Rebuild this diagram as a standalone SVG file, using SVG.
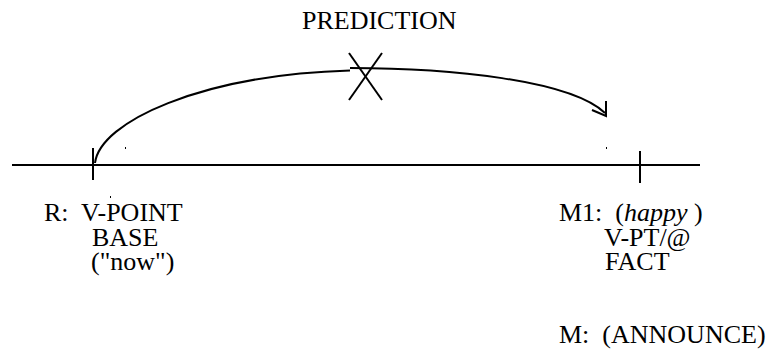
<svg xmlns="http://www.w3.org/2000/svg" width="770" height="355" viewBox="0 0 770 355">
<style>
.ln{stroke:#000;stroke-width:2;fill:none}
.t{font-family:"Liberation Serif","Times New Roman",serif;font-size:26px;fill:#000}
.it{font-style:italic}
.sp{fill:#000}
</style>
<rect width="770" height="355" fill="#fff"/>
<g id="connectors">
<line class="ln" x1="12" y1="165" x2="700" y2="165"/>
<path class="ln" d="M95 163 C100 122 200 75 350 70.5"/>
<path class="ln" d="M350 68 C450 68 570 80 605 113"/>
<polyline class="ln" points="592,110 606,116 606,101"/>
</g>
<g id="node-R">
<line class="ln" x1="93" y1="148" x2="93" y2="180"/>
<text class="t" x="44" y="221" xml:space="preserve">R:  V-POINT</text>
<text class="t" x="92" y="246">BASE</text>
<text class="t" x="91" y="270">("now")</text>
</g>
<g id="node-M1">
<line class="ln" x1="640" y1="151" x2="640" y2="183"/>
<text class="t" x="559" y="221" xml:space="preserve">M1:  (<tspan class="it">happy</tspan> )</text>
<text class="t" x="604" y="246">V-PT/@</text>
<text class="t" x="605" y="270">FACT</text>
</g>
<g id="node-M">
<text class="t" x="559" y="343" xml:space="preserve">M:  (ANNOUNCE)</text>
</g>
<g id="prediction">
<text class="t" x="302" y="29">PREDICTION</text>
<line class="ln" x1="349" y1="53" x2="382" y2="100"/>
<line class="ln" x1="382" y1="53" x2="349" y2="100"/>
</g>
<g id="specks">
<rect class="sp" x="125" y="147" width="1" height="2"/>
<rect class="sp" x="606" y="147" width="1" height="2"/>
<rect class="sp" x="110" y="196" width="1" height="2"/>
</g>
</svg>
